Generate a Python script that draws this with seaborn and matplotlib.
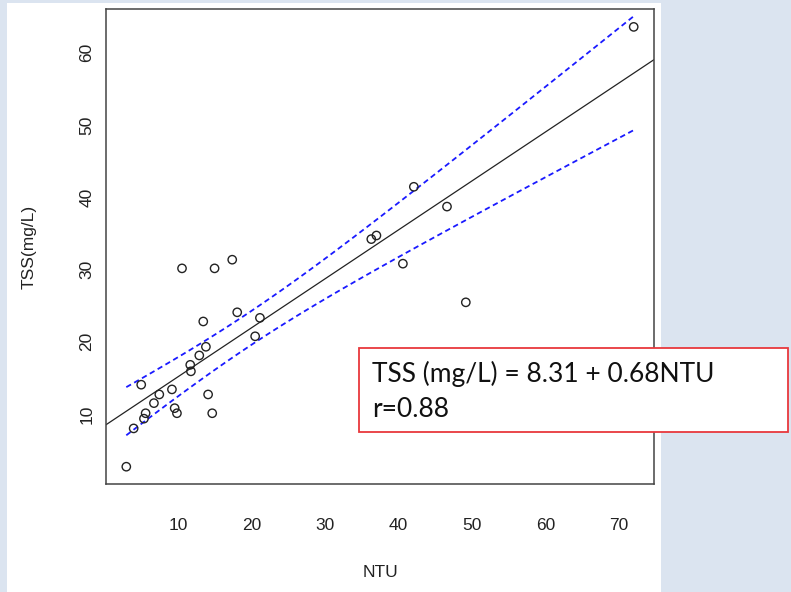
import matplotlib

matplotlib.use("Agg")
import matplotlib.pyplot as plt
from matplotlib.patches import Rectangle
import numpy as np
import pandas as pd
import seaborn as sns

# values
ntu = [2.97, 3.97, 5.0, 5.37, 5.6, 6.73, 7.46, 9.18, 9.55, 9.86,
       10.55, 11.67, 11.76, 12.9, 13.44, 13.8, 14.1, 14.66, 14.98, 17.38,
       18.06, 20.5, 21.15, 36.3, 37.0, 40.6, 42.09, 46.6, 49.16, 72.0]
tss = [2.7, 8.0, 14.05, 9.35, 10.1, 11.5, 12.7, 13.4, 10.8, 10.1,
       30.15, 16.8, 15.9, 18.1, 22.8, 19.3, 12.7, 10.1, 30.15, 31.35,
       24.07, 20.75, 23.3, 34.2, 34.7, 30.8, 41.44, 38.7, 25.45, 63.57]
x_ticks = [10, 20, 30, 40, 50, 60, 70]
y_ticks = [10, 20, 30, 40, 50, 60]
equation_lines = ["TSS (mg/L) = 8.31 + 0.68NTU", "r=0.88"]
T_975_28 = 2.048

df = pd.DataFrame({"NTU": ntu, "TSS": tss})

sns.set_style("white")
plt.rcParams["font.family"] = ["Liberation Sans", "DejaVu Sans"]

fig = plt.figure(figsize=(7.91, 5.92), dpi=100, facecolor="#dbe4f0")
W, H = 791, 592
fig.patches.append(Rectangle((7 / W, 0), (661 - 7) / W, (H - 3) / H,
                             transform=fig.transFigure, facecolor="white",
                             edgecolor="none", zorder=-5))
ax = fig.add_axes([106 / W, (H - 484.3) / H, (654 - 106) / W, (484.3 - 9.3) / H])
ax.set_zorder(1)

# fit + 95% confidence band of the mean
slope, intercept = np.polyfit(df["NTU"], df["TSS"], 1)
n = len(df)
resid = df["TSS"] - (intercept + slope * df["NTU"])
s = np.sqrt((resid ** 2).sum() / (n - 2))
xm = df["NTU"].mean()
sxx = ((df["NTU"] - xm) ** 2).sum()
xs = np.linspace(df["NTU"].min(), df["NTU"].max(), 100)
se = s * np.sqrt(1 / n + (xs - xm) ** 2 / sxx)
fit = intercept + slope * xs

xr = df["NTU"].max() - df["NTU"].min()
yr = df["TSS"].max() - df["TSS"].min()
xlim = (df["NTU"].min() - 0.04 * xr, df["NTU"].max() + 0.04 * xr)
ylim = (df["TSS"].min() - 0.04 * yr, df["TSS"].max() + 0.04 * yr)

xl = np.array(xlim)
ax.plot(xl, intercept + slope * xl, color="#222222", lw=0.9, zorder=2)
for band in (fit + T_975_28 * se, fit - T_975_28 * se):
    ax.plot(xs, band, color="#1a1aff", lw=1.3, ls=(0, (3, 2)), zorder=2)

sns.scatterplot(data=df, x="NTU", y="TSS", ax=ax, marker="o", s=36,
                facecolor="none", edgecolor="#222222", linewidth=1.0, zorder=3)

ax.set_xlim(xlim)
ax.set_ylim(ylim)
ax.set_xticks(x_ticks)
ax.set_yticks(y_ticks)
ax.tick_params(axis="both", length=7, width=0.9, color="#333333",
               labelsize=12.5, labelcolor="#222222", direction="out")
ax.tick_params(axis="x", pad=17)
ax.tick_params(axis="y", pad=1.5, labelrotation=90)
for lab in ax.get_yticklabels():
    lab.set_verticalalignment("center")
for sp in ax.spines.values():
    sp.set_color("#444444")
    sp.set_linewidth(1.1)
ax.set_xlabel("NTU", fontsize=12.5, color="#222222", labelpad=23)
ax.set_ylabel("TSS(mg/L)", fontsize=12.5, color="#222222", labelpad=31)

fig.patches.append(Rectangle((359.3 / W, (H - 432.3) / H), (788 - 359.3) / W,
                             (432.3 - 348.3) / H, transform=fig.transFigure,
                             facecolor="white", edgecolor="#e8383d", lw=1.3,
                             zorder=5))
for line, base in zip(equation_lines, [381.7, 417.0]):
    fig.text(371.7 / W, (H - base) / H, line, fontsize=19,
             family=["Lato", "DejaVu Sans"], color="#111111", va="baseline",
             ha="left", zorder=6)

fig.savefig("out.png", dpi=100, facecolor=fig.get_facecolor())
